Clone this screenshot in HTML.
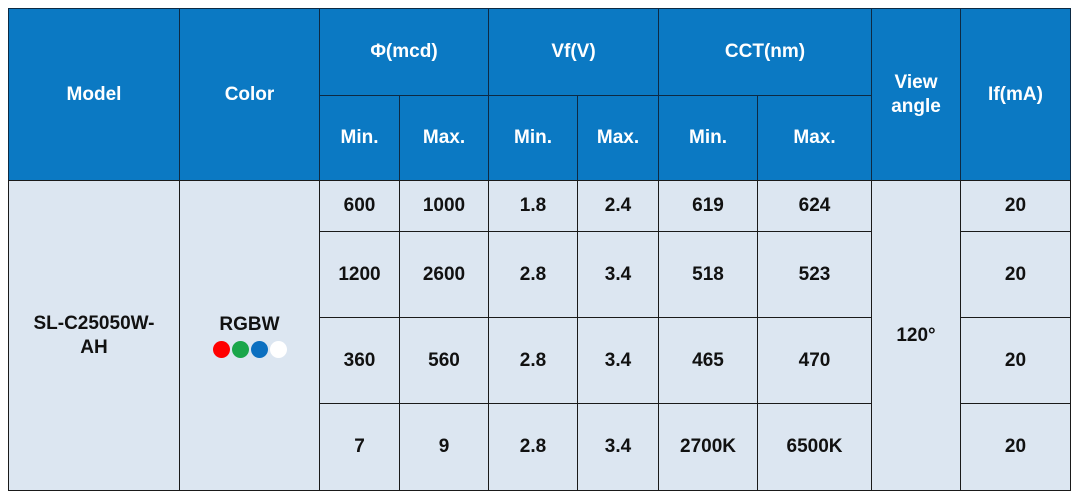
<!DOCTYPE html><html><head><style>
body{margin:0;width:1080px;height:497px;background:#fff;position:relative;overflow:hidden;font-family:"Liberation Sans",sans-serif;font-weight:bold}
.c{position:absolute;box-sizing:border-box;border:1px solid #1a1a1a;display:flex;align-items:center;justify-content:center;text-align:center;font-size:19px;line-height:24px}
.h{background:#0b79c3;color:#fff;border-color:#0d2a44}
.b{background:#dce6f1;color:#111}
.d{display:inline-block;width:17px;height:17px;border-radius:50%;margin:0 1px}
</style></head><body>
<div class="c h" style="left:8px;top:8px;width:172px;height:173px">Model</div>
<div class="c h" style="left:179px;top:8px;width:141px;height:173px">Color</div>
<div class="c h" style="left:319px;top:8px;width:170px;height:88px">Φ(mcd)</div>
<div class="c h" style="left:488px;top:8px;width:171px;height:88px">Vf(V)</div>
<div class="c h" style="left:658px;top:8px;width:214px;height:88px">CCT(nm)</div>
<div class="c h" style="left:871px;top:8px;width:90px;height:173px">View<br>angle</div>
<div class="c h" style="left:960px;top:8px;width:111px;height:173px">If(mA)</div>
<div class="c h" style="left:319px;top:95px;width:81px;height:86px">Min.</div>
<div class="c h" style="left:399px;top:95px;width:90px;height:86px">Max.</div>
<div class="c h" style="left:488px;top:95px;width:90px;height:86px">Min.</div>
<div class="c h" style="left:577px;top:95px;width:82px;height:86px">Max.</div>
<div class="c h" style="left:658px;top:95px;width:100px;height:86px">Min.</div>
<div class="c h" style="left:757px;top:95px;width:115px;height:86px">Max.</div>
<div class="c b" style="left:8px;top:180px;width:172px;height:311px">SL-C25050W-<br>AH</div>
<div class="c b" style="left:179px;top:180px;width:141px;height:311px;flex-direction:column"><div>RGBW</div><div style="margin-top:4px;line-height:0"><span class="d" style="background:#f00"></span><span class="d" style="background:#1aa64a"></span><span class="d" style="background:#0b6fc0"></span><span class="d" style="background:#fff"></span></div></div>
<div class="c b" style="left:871px;top:180px;width:90px;height:311px">120°</div>
<div id="rows"></div>
<script>
var xs=[319,399,488,577,658,757,871],ys=[180,231,317,403,490];
var d=[["600","1000","1.8","2.4","619","624"],["1200","2600","2.8","3.4","518","523"],["360","560","2.8","3.4","465","470"],["7","9","2.8","3.4","2700K","6500K"]];
var h="";for(var r=0;r<4;r++){for(var i=0;i<6;i++){h+='<div class="c b" style="left:'+xs[i]+'px;top:'+ys[r]+'px;width:'+(xs[i+1]-xs[i]+1)+'px;height:'+(ys[r+1]-ys[r]+1)+'px">'+d[r][i]+'</div>';}
h+='<div class="c b" style="left:960px;top:'+ys[r]+'px;width:111px;height:'+(ys[r+1]-ys[r]+1)+'px">20</div>';}
document.getElementById("rows").innerHTML=h;
</script>
</body></html>
